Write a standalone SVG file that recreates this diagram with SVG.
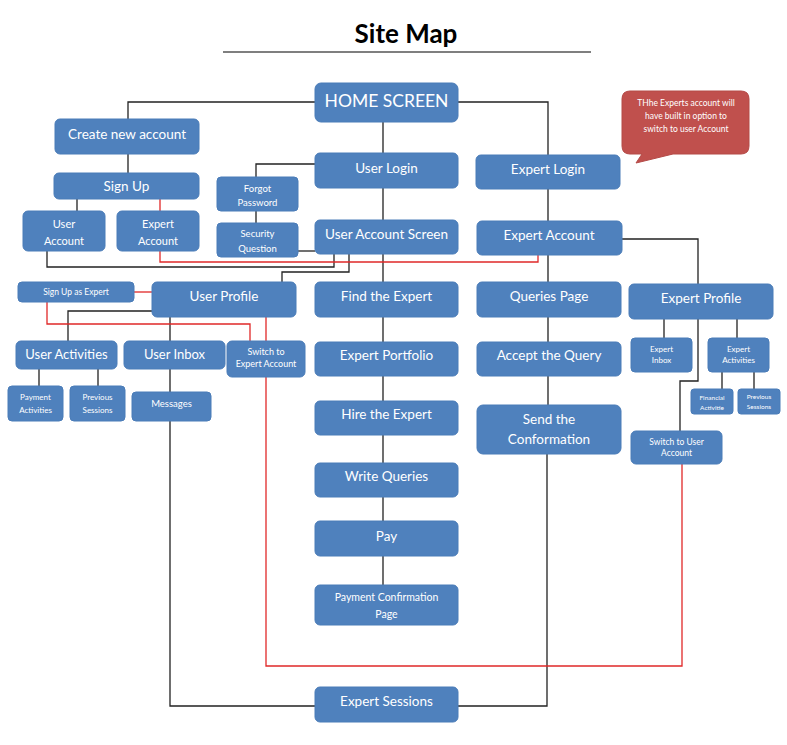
<svg xmlns="http://www.w3.org/2000/svg" width="787" height="745" viewBox="0 0 787 745">
<style>
.b{fill:#4F81BD;stroke:#4A7CB8;stroke-width:1}
.t{fill:#fff;font-family:Lato,"Open Sans","Liberation Sans",sans-serif;text-anchor:middle}
.k{fill:none;stroke:#222;stroke-width:1.3}
.r{fill:none;stroke:#E02828;stroke-width:1.3}
</style>
<rect width="787" height="745" fill="#fff"/>
<text x="406" y="43" font-family="Lato,'Open Sans','Liberation Sans',sans-serif" font-weight="bold" font-size="26" text-anchor="middle" fill="#000">Site Map</text>
<line x1="223" y1="52" x2="591" y2="52" stroke="#000" stroke-width="1.2"/>

<g id="connectors">
<path class="k" d="M315 102H128V119"/>
<path class="k" d="M458 102H548V155"/>
<path class="k" d="M383 122V153M383 188V220M383 254V282M383 317V342M383 376V401M383 435V463M383 497V521M383 556V585"/>
<path class="k" d="M315 164H256V177M256 211V223"/>
<path class="k" d="M298 251H315" stroke="#555"/>
<path class="k" d="M128 154V173M77 199V211"/>
<path class="k" d="M47 251V267H334V254"/>
<path class="k" d="M349 254V272H282V282"/>
<path class="k" d="M548 189V221M548 255V282M548 317V342M548 376V405"/>
<path class="k" d="M547 454V706H458"/>
<path class="k" d="M622 239H698V284"/>
<path class="k" d="M664 319V338M737 319V338"/>
<path class="k" d="M698 319V381H680V431"/>
<path class="k" d="M722 372V389M754 372V389"/>
<path class="k" d="M152 311H68V341"/>
<path class="k" d="M170 317V341M39 369V386M98 369V386M170 369V392"/>
<path class="k" d="M170 421V706H315"/>
<path class="r" d="M160 199V211M160 251V262H538V255"/>
<path class="r" d="M134 292H152"/>
<path class="r" d="M47 302V324H250V341"/>
<path class="r" d="M266 317V666H682V464"/>
</g>

<g id="callout">
<path d="M630 91H741Q749 91 749 99V146Q749 154 741 154H673L636 163L642 154H630Q622 154 622 146V99Q622 91 630 91Z" fill="#C0504D" stroke="#B44A47"/>
<text class="t" font-size="8.5" fill="#fde"><tspan x="686" y="106">THhe Experts account will</tspan><tspan x="686" y="119">have built in option to</tspan><tspan x="686" y="132">switch to user Account</tspan></text>
</g>

<g id="home"><rect class="b" x="315" y="83" width="143" height="39" rx="6"/><text class="t" x="386.5" y="107" font-size="17.5">HOME SCREEN</text></g>
<g id="userLogin"><rect class="b" x="315" y="153" width="143" height="35" rx="5"/><text class="t" x="386.5" y="173" font-size="13.5">User Login</text></g>
<g id="userAccountScreen"><rect class="b" x="315" y="220" width="143" height="34" rx="5"/><text class="t" x="386.5" y="239" font-size="13.5">User Account Screen</text></g>
<g id="createAccount"><rect class="b" x="55" y="119" width="144" height="35" rx="5"/><text class="t" x="127" y="139" font-size="13.5">Create new account</text></g>
<g id="signUp"><rect class="b" x="54" y="173" width="145" height="26" rx="5"/><text class="t" x="126.5" y="191" font-size="13.5">Sign Up</text></g>
<g id="userAccount"><rect class="b" x="23" y="211" width="82" height="40" rx="5"/><text class="t" font-size="11"><tspan x="64" y="228">User</tspan><tspan x="64" y="245">Account</tspan></text></g>
<g id="expertAccountSignup"><rect class="b" x="117" y="211" width="82" height="40" rx="5"/><text class="t" font-size="11"><tspan x="158" y="228">Expert</tspan><tspan x="158" y="245">Account</tspan></text></g>
<g id="forgotPassword"><rect class="b" x="217" y="177" width="81" height="34" rx="4"/><text class="t" font-size="9.5"><tspan x="257.5" y="192">Forgot</tspan><tspan x="257.5" y="206">Password</tspan></text></g>
<g id="securityQuestion"><rect class="b" x="217" y="223" width="81" height="34" rx="4"/><text class="t" font-size="9.5"><tspan x="257.5" y="237">Security</tspan><tspan x="257.5" y="252">Question</tspan></text></g>
<g id="expertLogin"><rect class="b" x="476" y="155" width="144" height="34" rx="5"/><text class="t" x="548" y="174" font-size="13.5">Expert Login</text></g>
<g id="expertAccount"><rect class="b" x="477" y="221" width="145" height="34" rx="5"/><text class="t" x="549" y="240" font-size="13.5">Expert Account</text></g>
<g id="signUpExpert"><rect class="b" x="18" y="282" width="116" height="20" rx="4"/><text class="t" x="76" y="295" font-size="8.5">Sign Up as Expert</text></g>
<g id="userProfile"><rect class="b" x="152" y="282" width="144" height="35" rx="5"/><text class="t" x="224" y="301" font-size="13.5">User Profile</text></g>
<g id="userActivities"><rect class="b" x="16" y="341" width="101" height="28" rx="5"/><text class="t" x="66.5" y="359" font-size="13">User Activities</text></g>
<g id="userInbox"><rect class="b" x="124" y="341" width="101" height="28" rx="5"/><text class="t" x="174.5" y="359" font-size="13">User Inbox</text></g>
<g id="switchToExpert"><rect class="b" x="227" y="341" width="78" height="36" rx="5"/><text class="t" font-size="9"><tspan x="266" y="355">Switch to</tspan><tspan x="266" y="366.5">Expert  Account</tspan></text></g>
<g id="paymentActivities"><rect class="b" x="8" y="386" width="55" height="35" rx="4"/><text class="t" font-size="8"><tspan x="35.5" y="400">Payment</tspan><tspan x="35.5" y="413">Activities</tspan></text></g>
<g id="previousSessions"><rect class="b" x="70" y="386" width="55" height="35" rx="4"/><text class="t" font-size="8"><tspan x="97.5" y="400">Previous</tspan><tspan x="97.5" y="413">Sessions</tspan></text></g>
<g id="messages"><rect class="b" x="132" y="392" width="79" height="29" rx="4"/><text class="t" x="171.5" y="407" font-size="9.5">Messages</text></g>
<g id="findExpert"><rect class="b" x="315" y="282" width="143" height="35" rx="5"/><text class="t" x="386.5" y="301" font-size="13.5">Find the Expert</text></g>
<g id="expertPortfolio"><rect class="b" x="315" y="342" width="143" height="34" rx="5"/><text class="t" x="386.5" y="360" font-size="13.5">Expert Portfolio</text></g>
<g id="hireExpert"><rect class="b" x="315" y="401" width="143" height="34" rx="5"/><text class="t" x="386.5" y="419" font-size="13.5">Hire the Expert</text></g>
<g id="writeQueries"><rect class="b" x="315" y="463" width="143" height="34" rx="5"/><text class="t" x="386.5" y="481" font-size="13.5">Write Queries</text></g>
<g id="pay"><rect class="b" x="315" y="521" width="143" height="35" rx="5"/><text class="t" x="386.5" y="541" font-size="13.5">Pay</text></g>
<g id="paymentConfirmation"><rect class="b" x="315" y="585" width="143" height="40" rx="5"/><text class="t" font-size="10.5"><tspan x="386.5" y="601">Payment Confirmation</tspan><tspan x="386.5" y="618">Page</tspan></text></g>
<g id="expertSessions"><rect class="b" x="315" y="687" width="143" height="35" rx="5"/><text class="t" x="386.5" y="706" font-size="13.5">Expert Sessions</text></g>
<g id="queriesPage"><rect class="b" x="477" y="282" width="144" height="35" rx="5"/><text class="t" x="549" y="301" font-size="13.5">Queries Page</text></g>
<g id="acceptQuery"><rect class="b" x="477" y="342" width="144" height="34" rx="5"/><text class="t" x="549" y="360" font-size="13.5">Accept the Query</text></g>
<g id="sendConformation"><rect class="b" x="477" y="405" width="144" height="49" rx="6"/><text class="t" font-size="13.5"><tspan x="549" y="424">Send the</tspan><tspan x="549" y="444">Conformation</tspan></text></g>
<g id="expertProfile"><rect class="b" x="629" y="284" width="144" height="35" rx="5"/><text class="t" x="701" y="303" font-size="13.5">Expert Profile</text></g>
<g id="expertInbox"><rect class="b" x="631" y="338" width="61" height="34" rx="4"/><text class="t" font-size="8"><tspan x="661.5" y="352">Expert</tspan><tspan x="661.5" y="363">Inbox</tspan></text></g>
<g id="expertActivities"><rect class="b" x="708" y="338" width="61" height="34" rx="4"/><text class="t" font-size="8"><tspan x="738.5" y="352">Expert</tspan><tspan x="738.5" y="363">Activities</tspan></text></g>
<g id="financialActivitie"><rect class="b" x="691" y="389" width="42" height="25" rx="3"/><text class="t" font-size="6.5"><tspan x="712" y="400">Financial</tspan><tspan x="712" y="410">Activitie</tspan></text></g>
<g id="expertPreviousSessions"><rect class="b" x="738" y="389" width="42" height="25" rx="3"/><text class="t" font-size="6.5"><tspan x="759" y="399">Previous</tspan><tspan x="759" y="409">Sessions</tspan></text></g>
<g id="switchToUser"><rect class="b" x="631" y="431" width="91" height="33" rx="5"/><text class="t" font-size="8.5"><tspan x="676.5" y="445">Switch to User</tspan><tspan x="676.5" y="456">Account</tspan></text></g>
</svg>
